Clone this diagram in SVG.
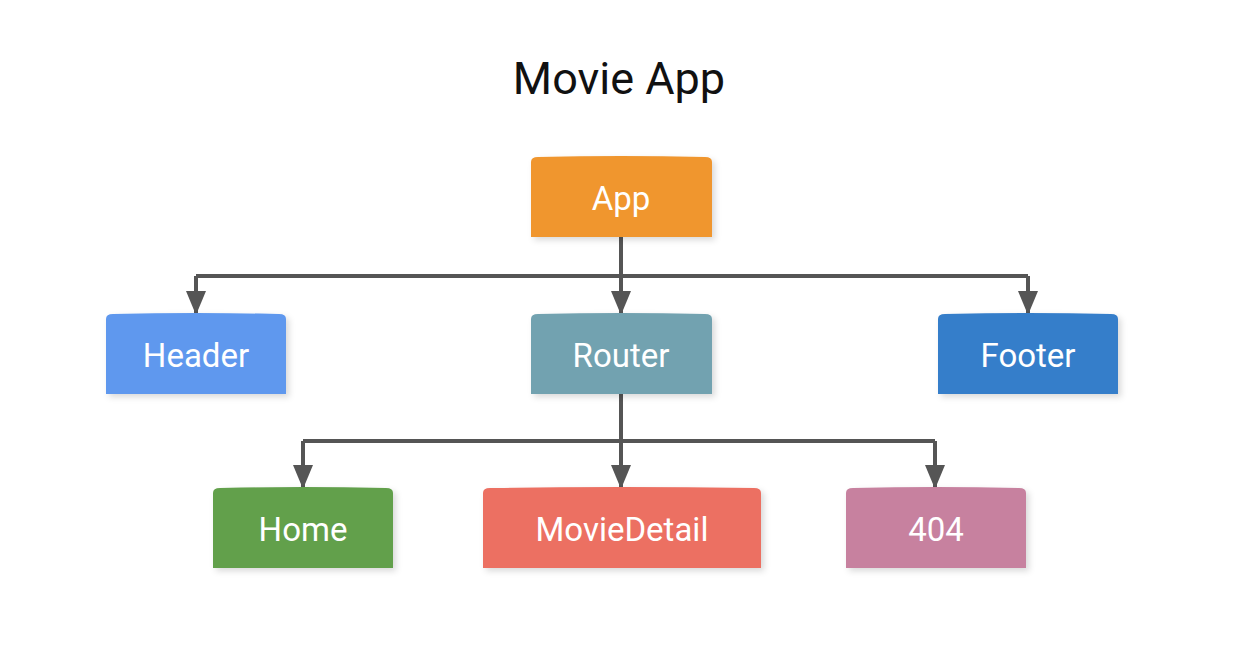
<svg xmlns="http://www.w3.org/2000/svg" width="1242" height="667" viewBox="0 0 1242 667">
<defs>
<style>
.box{filter:url(#sh)}
.lbl{font-family:Roboto,"Liberation Sans",sans-serif;font-size:33px;fill:#fff;text-anchor:middle;dominant-baseline:central}
.ln{fill:none;stroke:#555;stroke-width:4}
</style>
<filter id="sh" x="-10%" y="-10%" width="130%" height="130%">
<feDropShadow dx="3" dy="3" stdDeviation="3" flood-color="#000" flood-opacity="0.15"/>
</filter>
<marker id="ah" viewBox="0 0 12 10" refX="11" refY="5" markerWidth="6" markerHeight="5" orient="auto" markerUnits="strokeWidth">
<path d="M0,0 L12,5 L0,10 z" fill="#555"/>
</marker>
</defs>
<rect width="1242" height="667" fill="#fff"/>
<text x="619" y="94" font-family="Roboto,'Liberation Sans',sans-serif" font-size="45" fill="#111" text-anchor="middle">Movie App</text>
<g id="connectors">
<path class="ln" d="M621,237 V276"/>
<path class="ln" d="M196,276 H1028"/>
<path class="ln" d="M196,276 V313" marker-end="url(#ah)"/>
<path class="ln" d="M621,276 V313" marker-end="url(#ah)"/>
<path class="ln" d="M1028,276 V313" marker-end="url(#ah)"/>
<path class="ln" d="M621,394 V441"/>
<path class="ln" d="M303,441 H935"/>
<path class="ln" d="M303,441 V487" marker-end="url(#ah)"/>
<path class="ln" d="M621,441 V487" marker-end="url(#ah)"/>
<path class="ln" d="M935,441 V487" marker-end="url(#ah)"/>
</g>
<g id="app"><path class="box" d="M531,237 V162 Q531,157 538,157 Q621,155 705,157 Q712,157 712,162 V237 Z" fill="#F0962F"/><text class="lbl" x="621" y="198">App</text></g>
<g id="header"><path class="box" d="M106,394 V319 Q106,314 113,314 Q196,312 279,314 Q286,314 286,319 V394 Z" fill="#5F98EE"/><text class="lbl" x="196" y="355">Header</text></g>
<g id="router"><path class="box" d="M531,394 V319 Q531,314 538,314 Q621,312 705,314 Q712,314 712,319 V394 Z" fill="#72A2B0"/><text class="lbl" x="621" y="355">Router</text></g>
<g id="footer"><path class="box" d="M938,394 V319 Q938,314 945,314 Q1028,312 1111,314 Q1118,314 1118,319 V394 Z" fill="#367ECA"/><text class="lbl" x="1028" y="355">Footer</text></g>
<g id="home"><path class="box" d="M213,568 V493 Q213,488 220,488 Q303,486 386,488 Q393,488 393,493 V568 Z" fill="#62A04C"/><text class="lbl" x="303" y="529">Home</text></g>
<g id="moviedetail"><path class="box" d="M483,568 V493 Q483,488 490,488 Q622,486 754,488 Q761,488 761,493 V568 Z" fill="#EC6F62"/><text class="lbl" x="622" y="529">MovieDetail</text></g>
<g id="notfound"><path class="box" d="M846,568 V493 Q846,488 853,488 Q936,486 1019,488 Q1026,488 1026,493 V568 Z" fill="#C7819F"/><text class="lbl" x="936" y="529">404</text></g>
</svg>
